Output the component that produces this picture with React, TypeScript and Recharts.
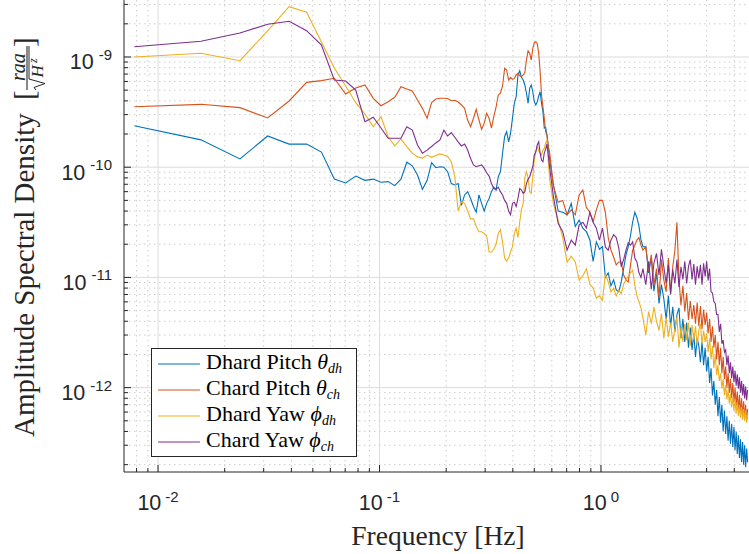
import React from 'react';
import { LineChart, Line, XAxis, YAxis, CartesianGrid, Legend } from 'recharts';

// FFT bin index, frequency resolution 1/128 Hz
const DF = 1 / 128;
const bins = [
  1, 2, 3, 4, 5, 6, 7, 8, 9, 10, 11, 12, 13, 14, 15, 16, 17, 18, 19, 20,
  21, 22, 23, 24, 25, 26, 27, 28, 29, 30, 31, 32, 33, 34, 35, 36, 37, 38, 39, 40,
  41, 42, 43, 44, 45, 46, 47, 48, 49, 50, 51, 52, 53, 54, 55, 56, 57, 58, 59, 60,
  61, 62, 63, 64, 65, 66, 67, 68, 69, 70, 71, 72, 73, 74, 75,
  78, 82, 86, 90, 94, 98, 102, 106, 110, 114, 118, 122, 126, 130, 134, 138,
  142, 146, 150, 154, 158, 162, 166, 170, 174, 178, 182, 186, 190, 194, 198,
  204, 210, 216, 222, 228, 234, 240, 246, 252, 258, 264, 270, 276, 282, 288, 294,
  300, 306, 312, 318, 324, 330, 336, 342, 348, 354, 360, 366, 372, 378, 384, 390,
  396, 402, 408, 414, 420, 426, 432, 438, 444, 450, 456, 462, 468, 474, 480, 486,
  492, 498, 504, 510, 516, 522, 528, 534, 540, 546, 552, 558, 564, 570, 576, 582, 588,
];

// amplitude spectral densities, in units of 1e-12 rad/sqrt(Hz)
const dhardPitch = [
  238, 177, 119, 192, 162, 162, 137, 78, 72, 83, 76, 78, 73, 74, 68, 78, 111, 103, 85, 63,
  76, 110, 99, 101, 100, 91, 71, 69, 71, 45, 56, 60, 52, 44, 39, 56, 47, 40, 47, 52,
  60, 66, 62, 82, 91, 134, 189, 210, 170, 203, 278, 380, 436, 687, 751, 654, 618, 557, 469, 380,
  520, 557, 484, 393, 367, 393, 443, 484, 380, 319, 226, 230, 196, 154, 120,
  70, 40, 39, 37, 47, 29, 33, 28, 26, 22, 14, 21, 18, 19, 10, 11,
  8.4, 9.5, 7.7, 7.4, 9.1, 12, 16, 19, 24, 32, 39, 35, 29, 22, 19,
  19, 11, 15, 7.5, 11, 5.8, 8.6, 6.4, 4.2, 6.8, 3.6, 5.4, 3.2, 4.6, 5.3, 2.8,
  4.2, 2.6, 3.9, 2.3, 3.5, 2.2, 3.1, 1.9, 2.8, 2.4, 1.7, 2.6, 1.6, 2.3, 1.4, 1.9,
  1.1, 1.5, 0.85, 1.15, 0.7, 0.95, 0.55, 0.82, 0.48, 0.7, 0.4, 0.62, 0.38, 0.55, 0.33, 0.5,
  0.31, 0.47, 0.29, 0.44, 0.27, 0.4, 0.25, 0.37, 0.23, 0.34, 0.21, 0.32, 0.2, 0.3, 0.19, 0.28, 0.21,
];

const chardPitch = [
  354, 372, 347, 280, 399, 589, 610, 641, 461, 523, 557, 422, 361, 393, 431, 537, 512, 491, 407, 342,
  278, 385, 416, 422, 422, 420, 401, 405, 390, 367, 342, 268, 233, 278, 335, 268, 221, 250, 308, 278,
  226, 287, 350, 452, 469, 546, 789, 762, 618, 654, 626, 640, 687, 711, 676, 663, 687, 721, 939, 1141,
  1080, 939, 1199, 1349, 1377, 1320, 1080, 736, 450, 354, 278, 210, 196, 154, 138,
  68, 48, 50, 37, 41, 37, 56, 62, 43, 39, 32, 41, 50, 50, 39, 23,
  17.7, 15.3, 13, 13.8, 13.8, 10.5, 9.5, 9.1, 13, 17.7, 19.6, 21.8, 23, 19.6, 17.7,
  19, 11.5, 16, 8.5, 12, 6.5, 14.5, 9.5, 7.4, 15, 7.2, 12.5, 17.5, 31.7, 9.5, 5.6,
  8.4, 4.9, 7.2, 4.1, 6.1, 4.2, 5.6, 3.8, 5.9, 3.6, 5.5, 3.4, 5.1, 3.7, 4.8, 3.1,
  4.2, 2.6, 3.6, 2.3, 3, 1.8, 2.6, 1.6, 2.3, 1.35, 1.9, 1.2, 1.55, 1, 1.35, 0.9,
  1.2, 0.8, 1.1, 0.74, 1, 0.68, 0.92, 0.62, 0.86, 0.58, 0.8, 0.54, 0.75, 0.52, 0.7, 0.5, 0.64,
];

const dhardYaw = [
  1000, 1081, 926, 1729, 2860, 2543, 1368, 795, 545, 385, 304, 233, 287, 189, 156, 181, 154, 134, 124, 121,
  129, 123, 128, 132, 129, 125, 112, 82, 40, 49, 47, 40, 34, 34, 29, 26, 26, 25, 24, 17,
  17, 18, 20, 25, 27, 21, 15, 14, 15, 17, 19, 25, 28, 23, 32, 41, 47, 80, 91, 80,
  60, 58, 82, 116, 138, 154, 141, 134, 129, 143, 148, 165, 177, 116, 79,
  47, 33, 23, 13.8, 15.6, 13.8, 9.5, 10.3, 12, 8.7, 8, 6.5, 6.8, 6.2, 10.8, 9.1,
  7.4, 8, 6.8, 7.7, 7.1, 8.7, 9.5, 10.3, 11, 11.6, 8.5, 6.8, 6, 5.3, 4.3,
  3, 4.9, 3.8, 5.4, 4, 3.3, 4.7, 2.8, 4.3, 2.9, 3.9, 2.6, 3.4, 4.4, 2.3, 3.5,
  2.6, 3.8, 2.7, 3.9, 2.4, 3.7, 2.7, 3.6, 2.4, 3.3, 3.8, 2.5, 3.3, 2.6, 3.1, 2.1,
  2.8, 1.8, 2.4, 1.5, 2, 1.3, 1.6, 1.15, 1.35, 0.98, 1.2, 0.85, 1.05, 0.78, 0.95, 0.72,
  0.88, 0.66, 0.82, 0.62, 0.78, 0.58, 0.74, 0.55, 0.7, 0.53, 0.67, 0.51, 0.64, 0.5, 0.62, 0.48, 0.58,
];

const chardYaw = [
  1240, 1388, 1651, 1981, 2108, 1733, 1285, 618, 606, 501, 259, 284, 227, 183, 183, 183, 233, 217, 159, 134,
  143, 154, 166, 177, 217, 192, 206, 187, 170, 156, 162, 143, 120, 105, 101, 103, 105, 98, 89, 83,
  71, 64, 63, 66, 60, 56, 50, 47, 40, 37, 47, 48, 44, 52, 64, 62, 58, 60, 71, 78,
  82, 91, 101, 129, 138, 159, 170, 134, 116, 112, 134, 146, 162, 129, 101,
  55, 31, 26, 17.7, 21.8, 19.6, 30, 31.7, 28, 39, 31.7, 28, 21.8, 28, 18.8, 17.7,
  21.8, 24.4, 23, 18.5, 12.5, 14.5, 17.7, 20.6, 19.6, 21, 15, 13.8, 11, 10, 12,
  8.6, 14, 7.8, 13.5, 16.5, 10.5, 18, 12.5, 8.8, 13, 7, 11.8, 8.8, 14.5, 8.2, 12.5,
  9.6, 14, 8.8, 12.6, 14.5, 9.6, 13.2, 8.6, 12.6, 9.8, 13, 8.6, 13.4, 10.2, 14, 9.4,
  12, 7.4, 7.2, 6, 5.8, 4.6, 4.6, 3.2, 3.8, 2.5, 2.7, 2.1, 2.2, 1.6, 1.95, 1.35,
  1.7, 1.22, 1.55, 1.12, 1.42, 1.04, 1.32, 0.98, 1.24, 0.9, 1.15, 0.85, 1.08, 0.8, 1.02, 0.77, 0.95,
];

const xTicks = [
  0.008, 0.009, 0.01, 0.02, 0.03, 0.04, 0.05, 0.06, 0.07, 0.08, 0.09,
  0.1, 0.2, 0.3, 0.4, 0.5, 0.6, 0.7, 0.8, 0.9, 1, 2, 3, 4,
];
const yTicks = [
  2e-13, 3e-13, 4e-13, 5e-13, 6e-13, 7e-13, 8e-13, 9e-13,
  1e-12, 2e-12, 3e-12, 4e-12, 5e-12, 6e-12, 7e-12, 8e-12, 9e-12,
  1e-11, 2e-11, 3e-11, 4e-11, 5e-11, 6e-11, 7e-11, 8e-11, 9e-11,
  1e-10, 2e-10, 3e-10, 4e-10, 5e-10, 6e-10, 7e-10, 8e-10, 9e-10,
  1e-9, 2e-9, 3e-9,
];

const X_DOMAIN: [number, number] = [0.00702, 4.66];
const Y_DOMAIN: [number, number] = [1.715e-13, 3.29e-9];

const series = [
  { key: 'dhPitch', name: 'Dhard Pitch', sym: 'θ', sub: 'dh', color: '#0072BD', values: dhardPitch },
  { key: 'chPitch', name: 'Chard Pitch', sym: 'θ', sub: 'ch', color: '#D95319', values: chardPitch },
  { key: 'dhYaw', name: 'Dhard Yaw', sym: 'ϕ', sub: 'dh', color: '#EDB120', values: dhardYaw },
  { key: 'chYaw', name: 'Chard Yaw', sym: 'ϕ', sub: 'ch', color: '#7E2F8E', values: chardYaw },
];

const rows = bins.map((b, i) => {
  const row: Record<string, number> = { f: b * DF };
  series.forEach((s) => {
    row[s.key] = s.values[i] * 1e-12;
  });
  return row;
});

const INK = '#262626';
const SANS = '"Liberation Sans", Arial, Helvetica, sans-serif';
const SERIF = '"Liberation Serif", "Times New Roman", serif';

const isDecade = (v: number) => Math.abs(Math.log10(v) - Math.round(Math.log10(v))) < 1e-6;
const xMajor = xTicks.filter(isDecade);
const xMinor = xTicks.filter((v) => !isDecade(v));
const yMajor = yTicks.filter(isDecade);
const yMinor = yTicks.filter((v) => !isDecade(v));

function BottomTick(props: any) {
  const { x, y, payload } = props;
  const v = payload.value;
  const major = isDecade(v);
  return (
    <g>
      <line x1={x} x2={x} y1={y} y2={y - (major ? 7 : 4)} stroke={INK} strokeWidth={1} />
      {major && (
        <text x={x} y={y + 38} textAnchor="middle" fill={INK} fontFamily={SANS} fontSize={21.5}>
          10
          <tspan dx={4} dy={-8.5} fontSize={15}>
            {Math.round(Math.log10(v))}
          </tspan>
        </text>
      )}
    </g>
  );
}

function TopTick(props: any) {
  const { x, y, payload } = props;
  const major = isDecade(payload.value);
  return <line x1={x} x2={x} y1={y} y2={y + (major ? 7 : 4)} stroke={INK} strokeWidth={1} />;
}

function LeftTick(props: any) {
  const { x, y, payload } = props;
  const v = payload.value;
  const major = isDecade(v);
  return (
    <g>
      <line x1={x} x2={x + (major ? 7 : 4)} y1={y} y2={y} stroke={INK} strokeWidth={1} />
      {major && (
        <text x={x - 12} y={y + 12.5} textAnchor="end" fill={INK} fontFamily={SANS} fontSize={21.5}>
          10
          <tspan dx={5} dy={-9.5} fontSize={15}>
            {Math.round(Math.log10(v))}
          </tspan>
        </text>
      )}
    </g>
  );
}

function XLabel(props: any) {
  const vb = props.viewBox || { x: 124, y: 472, width: 625, height: 82 };
  return (
    <text x={vb.x + vb.width / 2 + 1.5} y={vb.y + 73} textAnchor="middle" fill={INK} fontFamily={SERIF} fontSize={27.5}>
      Frequency [Hz]
    </text>
  );
}

function YLabel(props: any) {
  const vb = props.viewBox || { x: 0, y: 0, width: 124, height: 472 };
  const ox = vb.x + 34;
  const oy = vb.y + vb.height - 35;
  return (
    <g transform={`translate(${ox},${oy}) rotate(-90)`} fill={INK} fontFamily={SERIF}>
      <text x={0} y={0} fontSize={29}>Amplitude Spectral Density</text>
      <text x={337} y={0} fontSize={29}>[</text>
      <text x={356} y={-9} fontSize={20} fontStyle="italic">raa</text>
      <line x1={347} x2={391} y1={-7} y2={-7} stroke={INK} strokeWidth={1.1} />
      <path d="M347,2 L349.5,0 L353.5,11 L358,-5 L391,-5" fill="none" stroke={INK} strokeWidth={1} />
      <text x={359.5} y={9} fontSize={17} fontStyle="italic">H</text>
      <text x={374} y={3} fontSize={12} fontStyle="italic">z</text>
      <text x={390} y={0} fontSize={29}>]</text>
    </g>
  );
}

function LegendBox(props: any) {
  const shown = new Set((props.payload || []).map((it: any) => it.dataKey));
  return (
    <div
      style={{
        width: 206,
        height: 109,
        boxSizing: 'border-box',
        border: `1px solid ${INK}`,
        background: '#fff',
        paddingTop: 1.5,
      }}
    >
      {series
        .filter((s) => shown.size === 0 || shown.has(s.key))
        .map((s) => (
          <div key={s.key} style={{ display: 'flex', alignItems: 'center', height: 26 }}>
            <svg width={42} height={4} style={{ marginLeft: 6, marginRight: 6, display: 'block' }}>
              <line x1={0} x2={42} y1={2} y2={2} stroke={s.color} strokeWidth={1.2} />
            </svg>
            <span style={{ fontFamily: SERIF, fontSize: 22, color: '#000', lineHeight: '26px', whiteSpace: 'nowrap' }}>
              {s.name} <i>{s.sym}</i>
              <i style={{ fontSize: 14, position: 'relative', top: 4 }}>{s.sub}</i>
            </span>
          </div>
        ))}
    </div>
  );
}

export default function App() {
  return (
    <div style={{ position: 'absolute', left: 0, top: 0, background: '#fff' }}>
      <LineChart width={749} height={554} data={rows} margin={{ top: 0, right: 0, bottom: 0, left: 0 }}>
        <CartesianGrid
          xAxisId="b"
          yAxisId="l"
          verticalValues={xMinor}
          horizontalValues={yMinor}
          stroke="#cdcdcd"
          strokeDasharray="1.5 3.5"
        />
        <CartesianGrid xAxisId="b" yAxisId="l" verticalValues={xMajor} horizontalValues={yMajor} stroke="#dcdcdc" />
        <XAxis
          xAxisId="b"
          dataKey="f"
          type="number"
          scale="log"
          domain={X_DOMAIN}
          allowDataOverflow
          ticks={xTicks}
          interval={0}
          height={82}
          tickSize={0}
          tickMargin={0}
          tickLine={false}
          axisLine={{ stroke: INK, strokeWidth: 1 }}
          tick={BottomTick}
          label={XLabel}
        />
        <XAxis
          xAxisId="t"
          orientation="top"
          dataKey="f"
          type="number"
          scale="log"
          domain={X_DOMAIN}
          allowDataOverflow
          ticks={xTicks}
          interval={0}
          height={0}
          tickSize={0}
          tickMargin={0}
          tickLine={false}
          axisLine={false}
          tick={TopTick}
        />
        <YAxis
          yAxisId="l"
          type="number"
          scale="log"
          domain={Y_DOMAIN}
          allowDataOverflow
          ticks={yTicks}
          interval={0}
          width={124}
          tickSize={0}
          tickMargin={0}
          tickLine={false}
          axisLine={{ stroke: INK, strokeWidth: 1 }}
          tick={LeftTick}
          label={YLabel}
        />
        {series.map((s) => (
          <Line
            key={s.key}
            xAxisId="b"
            yAxisId="l"
            type="linear"
            dataKey={s.key}
            name={s.name}
            stroke={s.color}
            strokeWidth={1.1}
            dot={false}
            activeDot={false}
            isAnimationActive={false}
          />
        ))}
        <Legend
          layout="vertical"
          align="center"
          verticalAlign="middle"
          content={LegendBox}
          wrapperStyle={{ left: 151, top: 348, width: 206, height: 109 }}
        />
      </LineChart>
    </div>
  );
}
